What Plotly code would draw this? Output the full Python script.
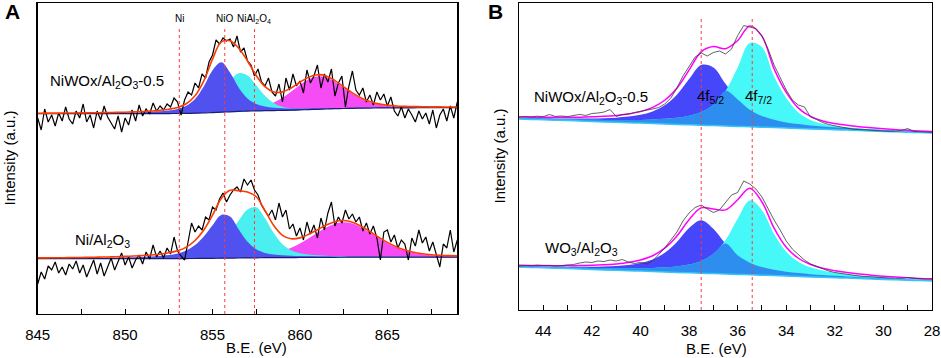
import numpy as np
import plotly.graph_objects as go

# ---------------- Panel A : Ni 2p ----------------
A_FIT_EV = np.arange(845.0, 869.001, 0.5)          # 49 points
A_RAW_EV = np.round(np.arange(845.0, 869.001, 0.2), 1)  # 121 points

# NiWOx/Al2O3-0.5 (upper spectrum)
a1_base = [200.3, 200.3, 200.3, 200.3, 200.3, 200.3, 200.3, 200.3, 200.3, 200.3, 200.3, 200.3, 200.3,
           200.35, 200.4, 200.45, 200.5, 200.6, 200.8, 201.0, 201.4, 201.8, 202.2, 202.6, 202.9, 203.1,
           203.3, 203.4, 203.6, 203.8, 204.1, 204.4, 204.7, 205.0, 205.3, 205.5, 205.7, 205.85, 205.95,
           206.05, 206.1, 206.15, 206.2, 206.2, 206.25, 206.25, 206.3, 206.3, 206.3]
a1_nio = [0.27, 0.30, 0.33, 0.37, 0.41, 0.47, 0.53, 0.61, 0.70, 0.82, 0.98, 1.18, 1.44, 1.8, 2.3, 3.1,
          4.6, 7.7, 14.3, 26.5, 42.3, 49.9, 39.3, 23.6, 12.6, 6.9, 4.2, 2.9, 2.2, 1.7, 1.38, 1.13, 0.94,
          0.80, 0.68, 0.59, 0.52, 0.46, 0.40, 0.36, 0.32, 0.29, 0.27, 0.25, 0.23, 0.21, 0.19, 0.18, 0.16]
a1_nial = [0.12, 0.13, 0.14, 0.15, 0.165, 0.18, 0.20, 0.23, 0.26, 0.29, 0.34, 0.39, 0.46, 0.55, 0.67,
           0.83, 1.05, 1.53, 2.6, 5.1, 10.6, 19.7, 30.8, 38.2, 35.7, 25.6, 14.9, 7.5, 3.6, 1.94, 1.28,
           0.94, 0.75, 0.61, 0.51, 0.43, 0.37, 0.32, 0.27, 0.24, 0.21, 0.19, 0.17, 0.16, 0.145, 0.135,
           0.125, 0.115, 0.11]
a1_sat = [0.095, 0.10, 0.11, 0.117, 0.125, 0.135, 0.145, 0.16, 0.17, 0.18, 0.20, 0.22, 0.24, 0.27, 0.30,
          0.33, 0.37, 0.42, 0.47, 0.54, 0.63, 0.74, 0.94, 1.27, 1.85, 2.95, 4.9, 8.1, 12.7, 18.6, 25.0,
          30.4, 32.9, 31.6, 26.9, 20.7, 14.5, 9.4, 5.8, 3.5, 2.1, 1.41, 1.02, 0.81, 0.66, 0.57, 0.50,
          0.43, 0.38]
a1_raw = [196, 184, 205, 192, 199, 188, 201, 193, 207, 195, 190, 203, 196, 210, 192, 199, 186, 203, 194,
          208, 197, 191, 185, 198, 182, 196, 189, 204, 193, 209, 198, 205, 200, 211, 203, 208, 204, 210,
          207, 216, 212,
          199, 214, 222, 219, 231, 226, 240, 236, 252, 259, 274, 270, 276, 273, 275, 267, 278, 262, 266,
          253, 249, 238, 245, 232, 228, 236, 222, 218, 230, 212, 236, 224, 240, 228, 233, 221, 244, 231,
          238, 249, 226, 240, 232, 245, 218, 231,
          238, 207, 228, 243, 224, 219, 226, 212, 219, 209, 222, 214, 220, 208, 217, 203, 198, 207, 196,
          205, 199, 192, 203, 195, 201, 190, 204, 186, 199, 205, 193, 208, 196, 212]

# Ni/Al2O3 (lower spectrum)
a2_base = [55.3] * 15 + [55.35, 55.4, 55.45, 55.5, 55.6, 55.7, 55.8, 55.9, 56.0, 56.1, 56.2, 56.3, 56.35,
                         56.4, 56.45, 56.5, 56.55, 56.6, 56.65, 56.7, 56.75, 56.8] + [56.8] * 12
a2_nio = [0.35, 0.39, 0.43, 0.47, 0.53, 0.59, 0.67, 0.76, 0.88, 1.02, 1.19, 1.42, 1.71, 2.1, 2.64, 3.6,
          5.1, 8.1, 13.5, 22.0, 33.1, 43.3, 41.5, 28.5, 16.1, 8.5, 4.8, 3.2, 2.3, 1.75, 1.38, 1.11, 0.92,
          0.77, 0.66, 0.56, 0.49, 0.43, 0.38, 0.34, 0.30, 0.27, 0.25, 0.23, 0.21, 0.19, 0.18, 0.16, 0.15]
a2_nial = [0.30, 0.33, 0.36, 0.39, 0.43, 0.47, 0.52, 0.58, 0.65, 0.74, 0.84, 0.96, 1.11, 1.29, 1.53, 1.84,
           2.25, 2.88, 3.93, 5.8, 9.4, 15.7, 25.4, 37.6, 48.4, 50.6, 39.5, 24.6, 13.4, 7.2, 4.26, 2.9,
           2.15, 1.69, 1.36, 1.12, 0.94, 0.80, 0.68, 0.60, 0.52, 0.46, 0.41, 0.37, 0.33, 0.30, 0.27,
           0.25, 0.23]
a2_sat = [0.13, 0.14, 0.15, 0.16, 0.17, 0.18, 0.19, 0.20, 0.22, 0.23, 0.25, 0.27, 0.30, 0.32, 0.35, 0.39,
          0.43, 0.47, 0.53, 0.59, 0.66, 0.76, 0.91, 1.12, 1.44, 1.98, 2.9, 4.3, 6.6, 9.8, 14.0, 19.1,
          24.6, 29.8, 33.6, 35.0, 33.6, 29.8, 24.6, 19.1, 14.0, 9.8, 6.6, 4.3, 2.9, 1.98, 1.44, 1.12, 0.91]
a2_raw = [30, 42, 35, 48, 44, 52, 41, 47, 39, 50, 45, 53, 41, 49, 37, 46, 54, 40, 51, 38, 47, 56, 44, 52,
          61, 49, 57, 46, 54, 59, 50, 62, 55, 69, 57, 63, 56, 66, 60, 77, 63,
          58, 54, 72, 91, 82, 88, 84, 97, 94, 107, 104, 115, 121, 112, 119, 124, 127, 122, 135, 129, 134,
          124, 119, 109, 103, 98, 104, 94, 111, 97, 104, 85, 90, 78, 86, 74, 92, 80, 89, 76, 96, 84, 101,
          112, 88, 97, 91, 104, 95, 100, 92, 97, 83, 91, 80, 88, 76, 54, 82, 84, 72, 79, 66, 74, 70, 54,
          76, 68, 84, 71, 77, 63, 72, 58, 47, 70, 66, 84, 62, 74]

a_ref_ev = [853.1, 855.7, 857.4]
a_ref_txt = ["Ni", "NiO", "NiAl<sub>2</sub>O<sub>4</sub>"]

# ---------------- Panel B : W 4f ----------------
B_FIT_EV = np.arange(45.0, 27.999, -0.5)   # 35 points
B_RAW_EV = np.arange(45.0, 27.999, -0.25)  # 69 points

b1_base = [191.0, 190.6, 190.2, 189.8, 189.4, 188.9, 188.5, 188.1, 187.7, 187.3, 186.9, 186.5, 186.1,
           185.6, 185.2, 184.8, 184.4, 184.0, 183.6, 183.2, 182.8, 182.4, 181.9, 181.5, 181.1, 180.7,
           180.3, 179.9, 179.5, 179.1, 178.6, 178.2, 177.8, 177.4, 177.0]
b1_f52 = [1.15, 1.3, 1.5, 1.74, 2.05, 2.5, 3.0, 3.7, 4.65, 6.1, 8.3, 12.1, 18.6, 29.6, 45.7, 60.3, 58.2,
          42.2, 27.0, 17.0, 11.1, 7.75, 5.7, 4.4, 3.5, 2.85, 2.35, 2.0, 1.7, 1.46, 1.28, 1.12, 1.0, 0.89, 0.8]
b1_f72 = [0.77, 0.87, 0.96, 1.09, 1.23, 1.41, 1.63, 1.85, 2.2, 2.66, 3.2, 4.0, 5.05, 6.6, 9.0, 13.1, 20.8,
          35.1, 58.9, 83.9, 80.0, 51.0, 30.0, 16.0, 9.0, 5.5, 3.8, 2.8, 2.1, 1.6, 1.3, 1.05, 0.85, 0.7, 0.6]
b1_raw = [193.0, 193.5, 193.2, 193.8, 193.3, 195.5, 193.6, 194.0, 193.4, 194.2, 195.6, 194.5, 196.5, 197.0,
          198.0, 200.5, 193.5, 195.5, 196.0, 197.5, 198.5, 199.5, 201.0, 202.5, 206.0, 212.0, 222.0, 234.0,
          244.0, 253.0, 257.0, 254.0, 257.5, 259.0, 256.0, 261.0, 274.5, 284.5, 283.0, 281.5, 274.0, 261.0,
          245.0, 233.0, 220.0, 210.0, 205.0, 203.0, 193.0, 190.5, 187.5, 185.5, 184.0, 183.0, 182.0, 180.8,
          180.5, 180.0, 179.8, 179.5, 179.0, 178.6, 178.8, 179.5, 181.5, 178.5, 178.2, 178.0, 177.8]

b2_base = [43.0, 42.6, 42.2, 41.8, 41.4, 40.9, 40.5, 40.1, 39.7, 39.3, 38.9, 38.5, 38.1, 37.6, 37.2, 36.8,
           36.4, 36.0, 35.6, 35.2, 34.8, 34.4, 33.9, 33.5, 33.1, 32.7, 32.3, 31.9, 31.5, 31.1, 30.6, 30.2,
           29.8, 29.4, 29.0]
b2_f52 = [1.04, 1.17, 1.35, 1.6, 1.9, 2.25, 2.75, 3.45, 4.4, 5.8, 8.2, 12.1, 19.1, 30.4, 44.8, 53.0, 44.8,
          30.4, 19.1, 12.1, 8.2, 5.8, 4.4, 3.45, 2.75, 2.25, 1.9, 1.6, 1.35, 1.17, 1.04, 0.9, 0.81, 0.72, 0.65]
b2_f72 = [0.68, 0.76, 0.85, 0.96, 1.08, 1.24, 1.43, 1.66, 1.97, 2.35, 2.9, 3.6, 4.6, 6.0, 8.3, 12.3, 19.8,
          33.7, 55.6, 74.4, 65.0, 41.6, 24.4, 14.8, 9.6, 6.8, 5.1, 3.95, 3.1, 2.55, 2.1, 1.78, 1.52, 1.31, 1.15]
b2_raw = [44.0, 44.5, 44.2, 44.8, 44.3, 44.6, 44.0, 44.5, 44.8, 45.5, 47.0, 48.0, 47.5, 49.0, 48.5, 50.0,
          49.0, 50.5, 48.0, 46.5, 47.5, 46.0, 49.0, 55.0, 62.0, 70.0, 78.0, 89.0, 97.0, 102.5, 105.0, 101.0,
          97.5, 100.0, 108.0, 115.0, 117.5, 129.0, 126.0, 121.0, 113.0, 101.0, 90.0, 80.0, 69.0, 61.0, 55.0,
          50.0, 46.0, 43.5, 41.0, 39.0, 37.5, 36.5, 35.5, 35.0, 34.0, 33.5, 33.0, 32.8, 32.5, 32.0, 31.8,
          31.6, 32.5, 31.5, 31.2, 31.0, 31.5]

b_ref_ev = [37.5, 35.4]

for arr in (a1_base, a1_nio, a1_nial, a1_sat, a2_base, a2_nio, a2_nial, a2_sat):
    assert len(arr) == len(A_FIT_EV), len(arr)
for arr in (a1_raw, a2_raw):
    assert len(arr) == len(A_RAW_EV), len(arr)
for arr in (b1_base, b1_f52, b1_f72, b2_base, b2_f52, b2_f72):
    assert len(arr) == len(B_FIT_EV), len(arr)
for arr in (b1_raw, b2_raw):
    assert len(arr) == len(B_RAW_EV), len(arr)

# ---------------- styling ----------------
FONT = "Liberation Sans, Arial, sans-serif"
A_BLUE, A_CYAN, A_MAG = "#5151ef", "#4cefef", "#f54cf5"
B_BLUE, B_CYAN, B_MIX = "#4646fa", "#46f8f8", "#2e8ef0"

fig = go.Figure()


def fill_comp(x, base, comp, color, xa, ya):
    base = np.asarray(base, float)
    top = base + np.asarray(comp, float)
    fig.add_trace(go.Scatter(x=x, y=base, mode="lines", line=dict(width=0, shape="spline"),
                             hoverinfo="skip", showlegend=False, xaxis=xa, yaxis=ya))
    fig.add_trace(go.Scatter(x=x, y=top, mode="lines", line=dict(width=0, shape="spline"),
                             fill="tonexty", fillcolor=color, hoverinfo="skip",
                             showlegend=False, xaxis=xa, yaxis=ya))


def line(x, y, color, width, xa, ya, shape="linear"):
    fig.add_trace(go.Scatter(x=x, y=y, mode="lines", line=dict(color=color, width=width, shape=shape),
                             hoverinfo="skip", showlegend=False, xaxis=xa, yaxis=ya))


# Panel A spectra
for base, nio, nial, sat, raw in ((a1_base, a1_nio, a1_nial, a1_sat, a1_raw),
                                  (a2_base, a2_nio, a2_nial, a2_sat, a2_raw)):
    fill_comp(A_FIT_EV, base, sat, A_MAG, "x", "y")
    fill_comp(A_FIT_EV, base, nial, A_CYAN, "x", "y")
    fill_comp(A_FIT_EV, base, nio, A_BLUE, "x", "y")
    line(A_FIT_EV, base, "#1d1d72", 1.2, "x", "y", "spline")
    env = np.asarray(base) + np.asarray(nio) + np.asarray(nial) + np.asarray(sat)
    line(A_RAW_EV, raw, "black", 1.2, "x", "y")
    line(A_FIT_EV, env, "#ff3a00", 1.6, "x", "y", "spline")

# Panel B spectra
for base, f52, f72, raw in ((b1_base, b1_f52, b1_f72, b1_raw), (b2_base, b2_f52, b2_f72, b2_raw)):
    fill_comp(B_FIT_EV, base, f52, B_BLUE, "x2", "y2")
    fill_comp(B_FIT_EV, base, f72, B_CYAN, "x2", "y2")
    fill_comp(B_FIT_EV, base, np.minimum(f52, f72), B_MIX, "x2", "y2")
    line(B_FIT_EV, base, "#36c6f6", 1.5, "x2", "y2", "spline")
    env = np.asarray(base) + np.asarray(f52) + np.asarray(f72)
    line(B_FIT_EV, env, "#ff00ff", 1.5, "x2", "y2", "spline")
    line(B_RAW_EV, raw, "#3a3a3a", 0.8, "x2", "y2")

shapes = []
for ev in a_ref_ev:
    shapes.append(dict(type="line", xref="x", yref="y", x0=ev, x1=ev, y0=0, y1=287,
                       line=dict(color="#ff3b3b", width=1, dash="3px,3px")))
for ev in b_ref_ev:
    shapes.append(dict(type="line", xref="x2", yref="y2", x0=ev, x1=ev, y0=0, y1=293,
                       line=dict(color="#ff3b3b", width=1, dash="3px,3px")))

W, H = 941, 358
ann = []
for ev, txt in zip(a_ref_ev, a_ref_txt):
    ann.append(dict(x=ev, y=295, xref="x", yref="y", text=txt, showarrow=False,
                    font=dict(size=10, color="black", family=FONT), xanchor="center", yanchor="middle"))
ann += [
    dict(x=845.59, y=232, xref="x", yref="y", text="NiWOx/Al<sub>2</sub>O<sub>3</sub>-0.5", showarrow=False,
         font=dict(size=15, color="black", family=FONT), xanchor="left", yanchor="middle"),
    dict(x=847.02, y=74, xref="x", yref="y", text="Ni/Al<sub>2</sub>O<sub>3</sub>", showarrow=False,
         font=dict(size=15, color="black", family=FONT), xanchor="left", yanchor="middle"),
    dict(x=44.47, y=212, xref="x2", yref="y2", text="NiWOx/Al<sub>2</sub>O<sub>3</sub>-0.5", showarrow=False,
         font=dict(size=15, color="black", family=FONT), xanchor="left", yanchor="middle"),
    dict(x=44.0, y=62, xref="x2", yref="y2", text="WO<sub>3</sub>/Al<sub>2</sub>O<sub>3</sub>", showarrow=False,
         font=dict(size=15, color="black", family=FONT), xanchor="left", yanchor="middle"),
    dict(x=37.76, y=213, xref="x2", yref="y2", text="4f<sub>5/2</sub>", showarrow=False,
         font=dict(size=15, color="black", family=FONT), xanchor="left", yanchor="middle"),
    dict(x=35.78, y=213, xref="x2", yref="y2", text="4f<sub>7/2</sub>", showarrow=False,
         font=dict(size=15, color="black", family=FONT), xanchor="left", yanchor="middle"),
    dict(x=12 / W, y=1 - 11 / H, xref="paper", yref="paper", text="<b>A</b>", showarrow=False,
         font=dict(size=21, color="black", family=FONT), xanchor="center", yanchor="middle"),
    dict(x=495 / W, y=1 - 11 / H, xref="paper", yref="paper", text="<b>B</b>", showarrow=False,
         font=dict(size=21, color="black", family=FONT), xanchor="center", yanchor="middle"),
    dict(x=9 / W, y=1 - 158.5 / H, xref="paper", yref="paper", text="Intensity (a.u.)", showarrow=False,
         textangle=-90, font=dict(size=15, color="black", family=FONT), xanchor="center", yanchor="middle"),
    dict(x=499 / W, y=1 - 156.5 / H, xref="paper", yref="paper", text="Intensity (a.u.)", showarrow=False,
         textangle=-90, font=dict(size=15, color="black", family=FONT), xanchor="center", yanchor="middle"),
    dict(x=256.7 / W, y=1 - 347.7 / H, xref="paper", yref="paper", text="B.E. (eV)", showarrow=False,
         font=dict(size=15, color="black", family=FONT), xanchor="center", yanchor="middle"),
    dict(x=716.7 / W, y=1 - 348 / H, xref="paper", yref="paper", text="B.E. (eV)", showarrow=False,
         font=dict(size=15, color="black", family=FONT), xanchor="center", yanchor="middle"),
]

axis_common = dict(showline=True, linecolor="black", linewidth=1.3, mirror=True, showgrid=False,
                   zeroline=False, automargin=False)
xa_common = dict(axis_common, ticks="inside", ticklen=5, tickwidth=1, tickcolor="black",
                 tickfont=dict(size=15, color="black", family=FONT), ticklabelstandoff=7)

fig.update_layout(
    width=W, height=H, autosize=False,
    margin=dict(l=0, r=0, t=0, b=0, pad=0, autoexpand=False),
    paper_bgcolor="white", plot_bgcolor="white", showlegend=False,
    font=dict(family=FONT, color="black"),
    xaxis=dict(xa_common, domain=[37.7 / W, 457.3 / W], range=[845, 869], dtick=5, tick0=845,
               minor=dict(dtick=2.5, ticks="inside", ticklen=5, tickcolor="black", showgrid=False),
               anchor="y"),
    yaxis=dict(axis_common, domain=[1 - 314 / H, 1 - 3 / H], range=[0, 311], showticklabels=False,
               ticks="", anchor="x"),
    xaxis2=dict(xa_common, domain=[519 / W, 932 / W], range=[45, 28], dtick=2, tick0=0,
                minor=dict(dtick=1, ticks="inside", ticklen=5, tickcolor="black", showgrid=False),
                anchor="y2"),
    yaxis2=dict(axis_common, domain=[1 - 310 / H, 1 - 3 / H], range=[0, 307], showticklabels=False,
                ticks="", anchor="x2"),
    shapes=shapes, annotations=ann,
)

fig.write_html("out.html", config={"displayModeBar": False, "staticPlot": True},
               post_script="document.body.style.margin='0px';document.body.style.overflow='hidden';")
